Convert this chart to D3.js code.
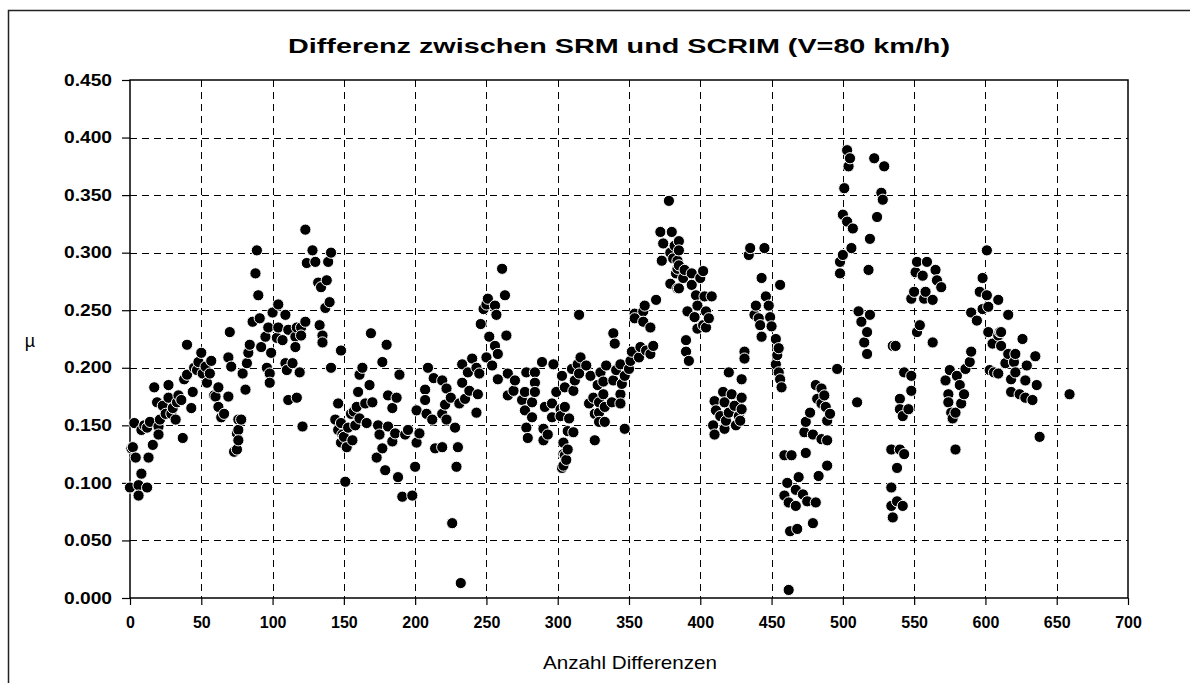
<!DOCTYPE html>
<html><head><meta charset="utf-8">
<script src="https://cdn.jsdelivr.net/npm/d3@7"></script>
<style>body{margin:0;background:#fff} svg{display:block} text{font-family:"Liberation Sans",Arial,sans-serif;fill:#000}</style>
</head><body><svg id="c" width="1190" height="683"></svg>
<script>
const titleText = "Differenz zwischen SRM und SCRIM (V=80 km/h)";
const xTitle = "Anzahl Differenzen";
const yTitle = "µ";
const xTickValues = [0,50,100,150,200,250,300,350,400,450,500,550,600,650,700];
const yTickValues = [0,0.05,0.1,0.15,0.2,0.25,0.3,0.35,0.4,0.45];

// [Anzahl, mu]
const pts000 = [[0,.096],[1,.130],[2,.131],[3,.152],[4,.122],[6,.098],[6,.089],[8,.146],[8,.108],[10,.150],[12,.148],[12,.096],[13,.122],[14,.153],[16,.133],[17,.183],[19,.170],[20,.149],[20,.142],[21,.155],[23,.167],[25,.160],[27,.185],[27,.174],[29,.160],[30,.165],[32,.155],[33,.170],[34,.176],[36,.172],[37,.139],[38,.190],[40,.220],[40,.194],[43,.165],[44,.179],[45,.200],[47,.198],[48,.205],[50,.213],[51,.195],[53,.201],[54,.187],[56,.195],[57,.206],[59,.176],[60,.175],[62,.183],[62,.166],[64,.157],[66,.160],[69,.209],[69,.175],[70,.231],[71,.201],[73,.127],[75,.143],[75,.129],[76,.155],[76,.146],[76,.137],[78,.155]];
const pts079 = [[79,.195],[81,.181],[82,.204],[83,.213],[84,.220],[86,.240],[88,.282],[89,.302],[90,.263],[91,.243],[92,.218],[95,.227],[96,.200],[97,.235],[98,.195],[98,.187],[99,.213],[100,.248],[103,.226],[104,.255],[104,.235],[107,.224],[109,.246],[109,.204],[110,.198],[111,.233],[111,.172],[114,.204],[116,.227],[116,.218],[117,.235],[117,.174],[119,.196],[120,.235],[120,.228],[121,.149],[123,.320],[123,.240],[124,.291],[128,.302],[130,.292],[132,.274],[133,.237],[134,.270],[135,.228],[135,.222],[137,.252],[138,.276],[139,.292],[140,.257],[141,.300],[141,.200],[144,.155],[146,.169],[146,.146],[148,.215],[148,.152],[148,.135],[149,.142],[151,.101]];
const pts150 = [[150,.140],[152,.131],[153,.148],[155,.160],[156,.137],[157,.162],[158,.150],[159,.166],[160,.179],[161,.194],[161,.156],[163,.200],[165,.169],[166,.152],[168,.185],[169,.230],[170,.170],[173,.122],[174,.150],[175,.142],[177,.205],[177,.130],[179,.111],[180,.220],[181,.176],[181,.149],[184,.165],[184,.136],[186,.143],[187,.174],[188,.105],[189,.194],[191,.088],[193,.142],[195,.146],[198,.089],[200,.114],[201,.163],[201,.135],[203,.143],[207,.181],[207,.172],[208,.160],[209,.200],[212,.155],[213,.191],[214,.130],[219,.189],[219,.160],[219,.131],[221,.168],[222,.182],[222,.155],[225,.174],[226,.065],[228,.148],[229,.114],[230,.131],[232,.013]];
const pts231 = [[231,.169],[233,.203],[233,.187],[235,.173],[237,.196],[238,.180],[240,.208],[243,.200],[243,.161],[244,.177],[245,.195],[246,.238],[248,.251],[250,.255],[250,.209],[251,.260],[252,.227],[254,.202],[256,.254],[256,.219],[257,.246],[258,.212],[258,.190],[261,.286],[263,.263],[264,.228],[265,.195],[265,.176],[269,.180],[270,.189],[275,.172],[277,.179],[277,.163],[278,.196],[278,.148],[279,.139],[282,.170],[282,.157],[284,.196],[284,.187],[284,.179],[289,.205],[290,.147],[290,.137],[291,.166],[293,.142],[296,.169],[296,.157],[297,.203],[299,.179],[302,.164],[302,.158],[303,.193],[304,.115],[305,.124]];
const pts303 = [[303,.113],[304,.125],[304,.135],[305,.166],[305,.183],[306,.120],[307,.129],[307,.145],[308,.156],[310,.199],[311,.144],[311,.180],[312,.189],[314,.203],[315,.195],[315,.246],[316,.209],[320,.202],[322,.169],[323,.193],[325,.174],[326,.137],[326,.160],[328,.185],[329,.161],[329,.170],[329,.153],[330,.196],[332,.177],[332,.188],[333,.153],[333,.166],[334,.202],[338,.170],[339,.189],[339,.230],[340,.221],[341,.198],[344,.203],[344,.177],[344,.169],[345,.186],[347,.193],[347,.147],[350,.199],[351,.206],[352,.214],[354,.247],[354,.243],[357,.209],[358,.218],[360,.249],[360,.240],[361,.254],[362,.215],[365,.235],[365,.212],[367,.219],[369,.259],[372,.318],[373,.293],[374,.308],[378,.345],[379,.300],[379,.273],[380,.318]];
const pts381 = [[381,.295],[382,.306],[383,.282],[384,.293],[384,.286],[384,.269],[385,.310],[385,.302],[385,.289],[385,.269],[388,.278],[389,.285],[390,.224],[390,.214],[391,.249],[392,.206],[394,.282],[394,.272],[396,.244],[397,.263],[398,.254],[398,.234],[400,.278],[402,.284],[402,.237],[403,.262],[404,.249],[404,.235],[406,.243],[408,.262],[409,.150],[410,.171],[410,.142],[411,.163],[414,.158],[416,.179],[417,.170],[417,.147],[418,.154],[420,.196],[420,.161],[422,.177],[424,.167],[425,.150],[427,.158],[428,.154],[429,.190],[429,.174],[429,.164],[431,.214],[431,.208],[434,.298],[435,.304],[438,.246],[439,.254],[441,.243],[442,.237],[443,.278],[443,.227],[445,.304],[446,.262],[448,.254],[449,.244],[450,.236],[453,.225],[453,.203],[454,.211],[455,.217],[455,.196],[456,.272],[456,.190],[457,.183],[459,.124],[459,.089]];
const pts460 = [[461,.100],[462,.083],[462,.007],[463,.058],[464,.124],[467,.094],[467,.080],[468,.060],[469,.105],[472,.090],[473,.144],[474,.153],[474,.126],[475,.084],[477,.161],[479,.142],[479,.065],[481,.185],[481,.083],[482,.173],[483,.106],[485,.182],[485,.169],[485,.138],[487,.176],[488,.166],[489,.154],[489,.137],[489,.115],[491,.160],[496,.199],[498,.292],[498,.282],[500,.333],[500,.298],[501,.356],[503,.389],[503,.327],[504,.375],[505,.382],[506,.304],[507,.321],[510,.170],[511,.249],[513,.240],[515,.222],[517,.231],[517,.212],[518,.285],[519,.312],[519,.246],[522,.382],[524,.331],[527,.352],[528,.346],[529,.375],[535,.219]];
const pts534 = [[534,.129],[534,.096],[534,.080],[535,.070],[537,.219],[538,.113],[538,.084],[540,.173],[540,.164],[540,.129],[542,.158],[542,.080],[543,.196],[543,.125],[546,.164],[548,.260],[548,.193],[548,.180],[550,.266],[551,.283],[552,.292],[552,.231],[554,.237],[556,.280],[557,.260],[558,.266],[559,.292],[563,.259],[563,.222],[565,.285],[566,.276],[569,.270],[572,.189],[574,.177],[574,.170],[575,.198],[576,.161],[577,.156],[579,.161],[579,.129],[580,.193],[582,.185],[583,.169],[585,.177],[586,.199],[589,.205],[590,.248],[590,.214],[594,.241],[596,.266],[598,.278],[598,.251],[601,.302],[601,.263],[602,.253],[602,.231],[603,.198],[605,.221],[609,.259],[609,.228],[609,.195],[611,.231]];
const pts606 = [[606,.196],[610,.231],[611,.219],[614,.204],[616,.246],[616,.212],[618,.190],[618,.179],[620,.205],[621,.212],[621,.196],[624,.177],[626,.225],[628,.189],[628,.174],[629,.202],[633,.172],[635,.210],[636,.185],[638,.140],[659,.177]];

const data = [].concat(pts000,pts079,pts150,pts231,pts303,pts381,pts460,pts534,pts606).sort((a,b)=>a[0]-b[0]);

const svg = d3.select("#c");
svg.append("rect").attr("width",1190).attr("height",683).attr("fill","#fff");
// outer chart frame
svg.append("path").attr("d","M8.5,683 L8.5,10.5 L1190,10.5").attr("fill","none").attr("stroke","#222").attr("stroke-width",1.5);

const L=130, R=1128, T=80, B=598;
const x = d3.scaleLinear().domain([0,700]).range([L,R]);
const y = d3.scaleLinear().domain([0,0.45]).range([B,T]);

const grid = svg.append("g").attr("stroke","#000").attr("stroke-width",1).attr("stroke-dasharray","7,5");
grid.selectAll("line.v").data(xTickValues.slice(1,-1)).join("line")
  .attr("x1",d=>Math.round(x(d))+0.5).attr("x2",d=>Math.round(x(d))+0.5).attr("y1",T).attr("y2",B);
grid.selectAll("line.h").data(yTickValues.slice(1,-1)).join("line")
  .attr("y1",d=>Math.round(y(d))+0.5).attr("y2",d=>Math.round(y(d))+0.5).attr("x1",L).attr("x2",R);

svg.append("rect").attr("x",L).attr("y",T).attr("width",R-L).attr("height",B-T)
  .attr("fill","none").attr("stroke","#000").attr("stroke-width",1.5);

const xAxis = svg.append("g").attr("transform",`translate(0,${B})`)
  .call(d3.axisBottom(x).tickValues(xTickValues).tickFormat(d3.format("d")).tickSize(7).tickSizeOuter(0).tickPadding(12));
const yAxis = svg.append("g").attr("transform",`translate(${L},0)`)
  .call(d3.axisLeft(y).tickValues(yTickValues).tickFormat(d3.format(".3f")).tickSize(8).tickSizeOuter(0).tickPadding(10));
[xAxis,yAxis].forEach(g=>{
  g.select(".domain").remove();
  g.selectAll("line").attr("stroke","#000").attr("stroke-width",1.2);
  g.selectAll("text").attr("font-size",16).attr("font-weight","bold")
    .attr("font-family","'Liberation Sans',Arial,sans-serif").attr("fill","#000");
});
// scanned labels on the value axis are wider than the font
yAxis.selectAll("text").each(function(){
  const w = this.getComputedTextLength();
  d3.select(this).attr("textLength", w*1.2).attr("lengthAdjust","spacingAndGlyphs");
});

svg.append("g").selectAll("circle").data(data).join("circle")
  .attr("cx",d=>x(d[0])).attr("cy",d=>y(d[1])).attr("r",5.6)
  .attr("fill","#000").attr("stroke","#fff").attr("stroke-width",1);

svg.append("text").attr("x",619).attr("y",53).attr("text-anchor","middle")
  .attr("font-size",21).attr("font-weight","bold").attr("textLength",662).attr("lengthAdjust","spacingAndGlyphs").text(titleText);
svg.append("text").attr("x",630).attr("y",669).attr("text-anchor","middle")
  .attr("font-size",19).attr("textLength",174).attr("lengthAdjust","spacingAndGlyphs").text(xTitle);
svg.append("text").attr("x",30).attr("y",347).attr("text-anchor","middle")
  .attr("font-size",18).text(yTitle);
</script></body></html>
